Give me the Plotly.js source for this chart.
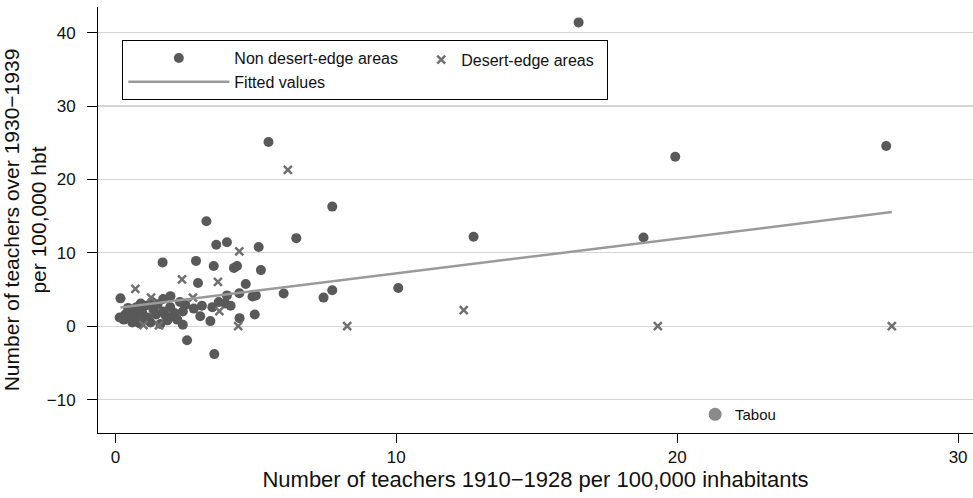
<!DOCTYPE html>
<html><head><meta charset="utf-8">
<script src="https://cdn.plot.ly/plotly-3.0.1.min.js"></script>
<style>html,body{margin:0;padding:0;background:#fff}#chart{width:973px;height:498px}</style>
</head><body><div id="chart"></div>
<script>
// Non desert-edge areas (circles)
const nonDesertX = [16.49, 5.45, 19.93, 27.44, 18.8, 12.75, 10.07, 7.72, 7.72, 7.41, 6.44, 5.99, 3.24,
  3.59, 3.97, 5.1, 1.68, 2.87, 3.5, 4.22, 4.33, 5.18, 2.94, 4.64, 4.41, 4.88, 5.0, 3.97, 0.18, 1.96, 1.7,
  3.08, 3.45, 3.68, 3.91, 4.1, 2.49, 2.79,
  3.02, 3.38, 4.42, 4.96, 2.4, 1.78, 2.07, 2.55, 3.52,
  0.15, 0.3, 0.35, 0.5, 0.55, 0.7, 0.75, 0.85, 0.95, 1.05, 1.15, 1.25, 1.35, 1.45, 1.5, 1.6, 1.7, 1.85,
  1.95, 2.1, 2.2, 0.45, 0.9, 1.3, 1.0, 0.6, 2.3, 2.4];
const nonDesertY = [41.4, 25.1, 23.1, 24.55, 12.1, 12.2, 5.2, 16.3, 4.9, 3.9, 12.0, 4.45, 14.3,
  11.1, 11.45, 10.8, 8.7, 8.9, 8.2, 7.95, 8.2, 7.65, 5.9, 5.75, 4.5, 4.05, 4.2, 4.2, 3.8, 4.1, 3.7,
  2.8, 2.6, 3.3, 3.1, 2.8, 2.9, 2.4,
  1.35, 0.7, 1.1, 1.6, 0.2, 1.5, 1.3, -1.9, -3.8,
  1.2, 0.9, 1.6, 1.1, 2.1, 1.5, 2.6, 0.4, 1.9, 2.8, 1.2, 0.5, 2.3, 1.6, 3.0, 0.3, 2.0, 0.8,
  2.6, 1.8, 0.9, 2.5, 3.1, 3.3, 0.9, 0.5, 3.3, 2.0];
// Desert-edge areas (crosses)
const desertX = [6.14, 4.41, 0.71, 2.37, 3.65, 1.27, 2.76, 3.7, 1.0, 1.55, 4.37, 8.25, 12.4, 19.31, 27.64];
const desertY = [21.3, 10.2, 5.1, 6.4, 6.05, 3.9, 3.9, 2.05, 0.15, 0.1, 0.0, 0.0, 2.2, 0.0, 0.0];
// Fitted values
const fitX = [0.18, 27.64];
const fitY = [2.55, 15.55];
// Tabou
const tabouX = [21.35];
const tabouY = [-12.0];
const tabouLabel = 'Tabou';
// Ticks
const xTickVals = [0, 10, 20, 30];
const yTickVals = [-10, 0, 10, 20, 30, 40];

const FONT = 'Liberation Sans, Arial, Helvetica, sans-serif';

const traces = [
  {type: 'scatter', mode: 'markers', x: nonDesertX, y: nonDesertY, name: 'Non desert-edge areas',
   marker: {symbol: 'circle', size: 10, color: '#595959', line: {width: 0}}, legend: 'legend'},
  {type: 'scatter', mode: 'markers', x: desertX, y: desertY, name: 'Desert-edge areas',
   marker: {symbol: 'x-thin', size: 8, color: '#707070', line: {width: 2.5, color: '#707070'}}, legend: 'legend2'},
  {type: 'scatter', mode: 'lines', x: fitX, y: fitY, name: 'Fitted values',
   line: {color: '#9a9a9a', width: 2.5}, legend: 'legend'},
  {type: 'scatter', mode: 'markers', x: tabouX, y: tabouY, name: tabouLabel, showlegend: false,
   marker: {symbol: 'circle', size: 13, color: '#8a8a8a'}}
];

const layout = {
  width: 973, height: 498,
  margin: {l: 98, r: 0, t: 7, b: 65},
  paper_bgcolor: '#fff', plot_bgcolor: '#fff',
  font: {family: FONT, color: '#111'},
  showlegend: true,
  xaxis: {
    range: [-0.62, 30.53], tickvals: xTickVals, ticks: 'outside', ticklen: 9, tickwidth: 1, tickcolor: '#000',
    showline: true, linecolor: '#000', linewidth: 1, showgrid: false, zeroline: false,
    tickfont: {size: 17, color: '#111', family: FONT}, ticklabelstandoff: 0, automargin: false,
    title: {text: 'Number of teachers 1910\u22121928 per 100,000 inhabitants', font: {size: 22, color: '#111', family: FONT}, standoff: 4}
  },
  yaxis: {
    range: [-14.55, 43.5], tickvals: yTickVals, ticks: 'outside', ticklen: 10, tickwidth: 1, tickcolor: '#000',
    showline: true, linecolor: '#000', linewidth: 1, showgrid: true, gridcolor: '#d6d6d6', gridwidth: 1.2, zeroline: false,
    tickfont: {size: 17, color: '#111', family: FONT}, ticklabelstandoff: 8, automargin: false,
    title: {text: 'Number of teachers over 1930\u22121939<br>per 100,000 hbt', font: {size: 21, color: '#111', family: FONT}, standoff: 4}
  },
  legend: {
    orientation: 'h', x: 0.0278, y: 0.9225, xanchor: 'left', yanchor: 'top',
    entrywidth: 368, entrywidthmode: 'pixels', itemwidth: 101,
    bordercolor: '#000', borderwidth: 1, bgcolor: 'rgba(0,0,0,0)',
    font: {size: 16, color: '#111', family: FONT}
  },
  legend2: {
    orientation: 'h', x: 0.3694, y: 0.9164, xanchor: 'left', yanchor: 'top',
    itemwidth: 30, borderwidth: 0, bgcolor: 'rgba(0,0,0,0)',
    font: {size: 16, color: '#111', family: FONT}
  },
  annotations: [
    {x: tabouX[0], y: tabouY[0], xref: 'x', yref: 'y', text: tabouLabel, showarrow: false,
     xanchor: 'left', yanchor: 'middle', xshift: 18, font: {size: 15, color: '#111', family: FONT}}
  ]
};

Plotly.newPlot('chart', traces, layout, {displayModeBar: false, staticPlot: true});
</script>
</body></html>
